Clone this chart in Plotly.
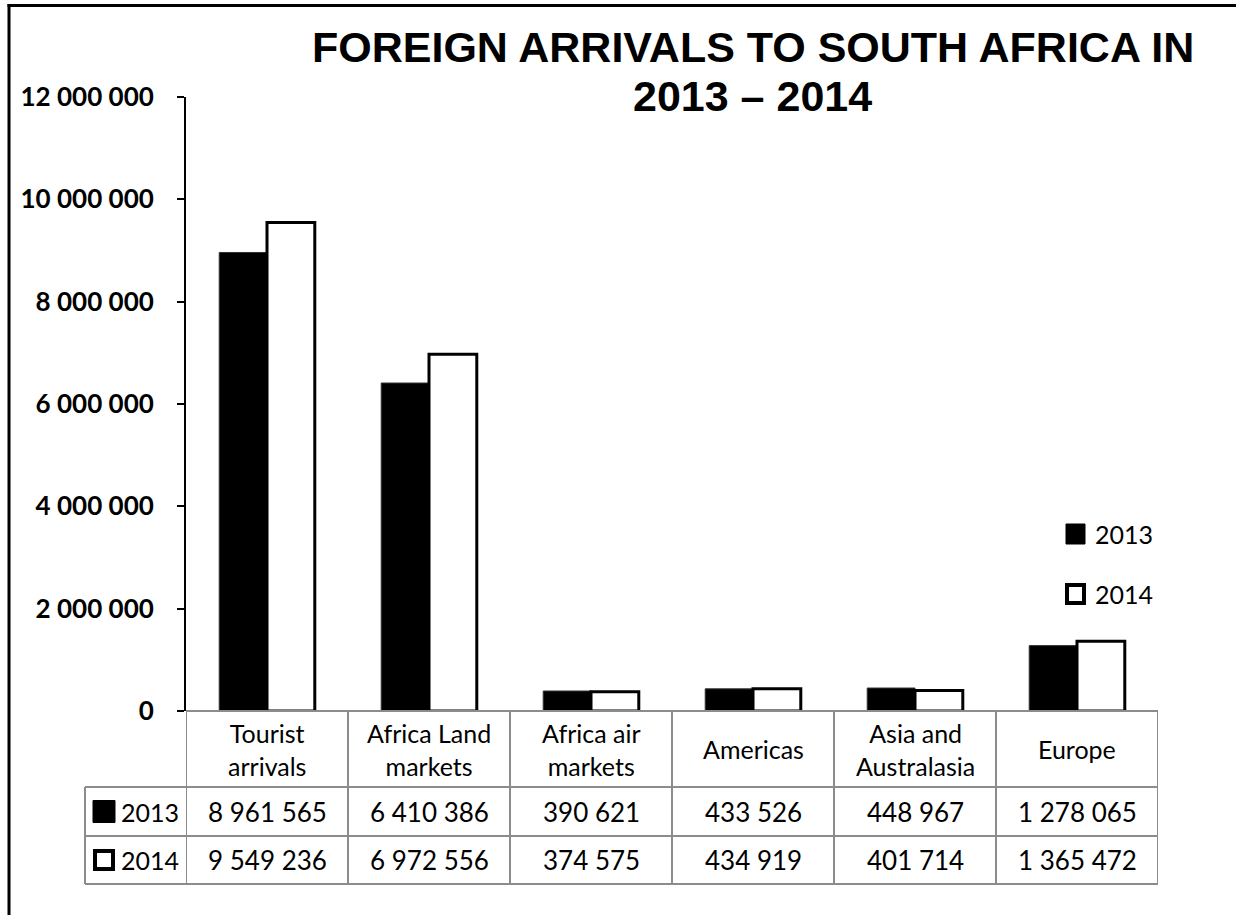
import plotly.graph_objects as go

# ---- data ----
categories = ["Tourist arrivals", "Africa Land markets", "Africa air markets",
              "Americas", "Asia and Australasia", "Europe"]
header_labels = ["Tourist<br>arrivals", "Africa Land<br>markets", "Africa air<br>markets",
                 "Americas", "Asia and<br>Australasia", "Europe"]
years = ["2013", "2014"]
arrivals_2013 = [8961565, 6410386, 390621, 433526, 448967, 1278065]
arrivals_2014 = [9549236, 6972556, 374575, 434919, 401714, 1365472]
y_ticks = [0, 2000000, 4000000, 6000000, 8000000, 10000000, 12000000]
title_lines = ["FOREIGN ARRIVALS TO SOUTH AFRICA IN", "2013 – 2014"]

W, H = 1236, 915


def px(x):
    return x / W


def py(y):
    return 1 - y / H


def fmt(v):
    return f"{v:,}".replace(",", " ")


fig = go.Figure()
fig.add_trace(go.Bar(x=categories, y=arrivals_2013, name=years[0],
                     marker=dict(color="black", line=dict(color="#333333", width=1)),
                     showlegend=False))
fig.add_trace(go.Bar(x=categories, y=arrivals_2014, name=years[1],
                     marker=dict(color="white", line=dict(color="black", width=3)),
                     showlegend=False))

ax_left, ax_right = 186, 1158
ax_top, ax_bottom = 97, 711

fig.update_layout(
    width=W, height=H,
    margin=dict(l=0, r=0, t=0, b=0, autoexpand=False),
    paper_bgcolor="white", plot_bgcolor="white",
    separators=". ",
    barmode="group", bargap=0.41, bargroupgap=0,
    xaxis=dict(domain=[px(ax_left), px(ax_right)], type="category",
               categoryorder="array", categoryarray=categories,
               range=[-0.5, 5.5], showticklabels=False, showline=False,
               showgrid=False, zeroline=False, ticks="", automargin=False),
    yaxis=dict(domain=[py(ax_bottom), py(ax_top)], range=[0, 12000000],
               tickvals=y_ticks, tickformat=",d", ticks="outside", ticklen=7,
               tickwidth=2, tickcolor="black", showline=True, linecolor="black",
               linewidth=2, showgrid=False, zeroline=False, automargin=False,
               ticklabelstandoff=18,
               tickfont=dict(family="Lato", size=26, color="black", weight="bold")),
    font=dict(family="Lato", color="black"),
)

shapes = []
annotations = []
grid_col = "#8c8c8c"

# outer frame (left and top edges visible in the picture)
shapes.append(dict(type="line", xref="paper", yref="paper",
                   x0=px(9), x1=px(9), y0=py(4), y1=0,
                   line=dict(color="black", width=3)))
shapes.append(dict(type="line", xref="paper", yref="paper",
                   x0=px(7.5), x1=1, y0=py(5.5), y1=py(5.5),
                   line=dict(color="black", width=3)))

# data table
row_top, row_h1, row_h2, row_bot = 711, 787, 836, 884
key_left = 85
shapes.append(dict(type="line", xref="x", yref="paper", x0=-0.5, x1=5.5,
                   y0=py(row_top), y1=py(row_top), line=dict(color=grid_col, width=2)))
for yy in (row_h1, row_h2, row_bot):
    shapes.append(dict(type="line", xref="paper", yref="paper", x0=px(key_left),
                       x1=px(ax_right), y0=py(yy), y1=py(yy),
                       line=dict(color=grid_col, width=2)))
for i in range(len(categories) + 1):
    shapes.append(dict(type="line", xref="x", yref="paper", x0=i - 0.5, x1=i - 0.5,
                       y0=py(row_top), y1=py(row_bot), line=dict(color=grid_col, width=2)))
shapes.append(dict(type="line", xref="paper", yref="paper", x0=px(key_left), x1=px(key_left),
                   y0=py(row_h1), y1=py(row_bot), line=dict(color=grid_col, width=2)))

for i, lab in enumerate(header_labels):
    annotations.append(dict(x=i, y=py((row_top + row_h1) / 2), xref="x", yref="paper",
                            text=lab, showarrow=False, xanchor="center", yanchor="middle",
                            font=dict(family="Lato", size=25, color="black")))
for r, (vals, yc) in enumerate([(arrivals_2013, (row_h1 + row_h2) / 2),
                                (arrivals_2014, (row_h2 + row_bot) / 2)]):
    for i, v in enumerate(vals):
        annotations.append(dict(x=i, y=py(yc), xref="x", yref="paper", text=fmt(v),
                                showarrow=False, xanchor="center", yanchor="middle",
                                font=dict(family="Lato", size=26, color="black")))
    # legend key inside table
    if r == 0:
        shapes.append(dict(type="rect", xref="paper", yref="paper", x0=px(93), x1=px(115),
                           y0=py(yc - 11), y1=py(yc + 11), fillcolor="black",
                           line=dict(color="black", width=1)))
    else:
        shapes.append(dict(type="rect", xref="paper", yref="paper", x0=px(95), x1=px(113),
                           y0=py(yc - 9), y1=py(yc + 9), fillcolor="white",
                           line=dict(color="black", width=4)))
    annotations.append(dict(x=px(119), y=py(yc), xref="paper", yref="paper", text=years[r],
                            showarrow=False, xanchor="left", yanchor="middle",
                            font=dict(family="Lato", size=25, color="black")))

# right-side legend
for r, yc in enumerate([534, 594]):
    if r == 0:
        shapes.append(dict(type="rect", xref="paper", yref="paper", x0=px(1066), x1=px(1085),
                           y0=py(yc - 10), y1=py(yc + 10), fillcolor="black",
                           line=dict(color="black", width=1)))
    else:
        shapes.append(dict(type="rect", xref="paper", yref="paper", x0=px(1067), x1=px(1084),
                           y0=py(yc - 9), y1=py(yc + 9), fillcolor="white",
                           line=dict(color="black", width=4)))
    annotations.append(dict(x=px(1093), y=py(yc), xref="paper", yref="paper", text=years[r],
                            showarrow=False, xanchor="left", yanchor="middle",
                            font=dict(family="Lato", size=25, color="black")))

# title (two separately placed lines for tighter line spacing)
for k, (line, top) in enumerate(zip(title_lines, [21, 70])):
    annotations.append(dict(x=px(753), y=py(top), xref="paper", yref="paper", text=line,
                            showarrow=False, xanchor="center", yanchor="top", align="center",
                            font=dict(family="Liberation Sans", size=43, color="black",
                                      weight="bold")))

fig.update_layout(shapes=shapes, annotations=annotations)
fig.write_html("out.html")
